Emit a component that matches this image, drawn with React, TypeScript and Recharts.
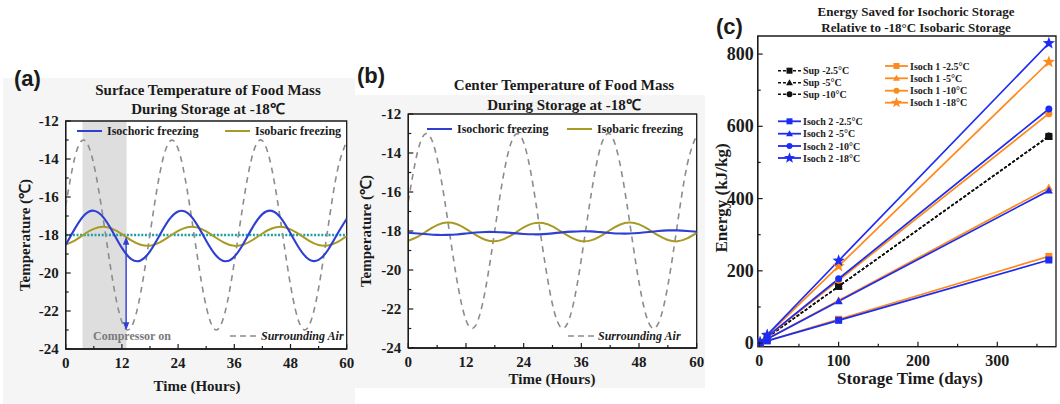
import React from 'react';
import {
  LineChart,
  Line,
  XAxis,
  YAxis,
  ReferenceArea,
  ReferenceLine,
  ReferenceDot,
  CartesianGrid,
} from 'recharts';

// ---------------- DATA ----------------
const hours = [0, 2, 4, 6, 8, 10, 12, 14, 16, 18, 20, 22, 24, 26, 28, 30, 32, 34, 36, 38, 40, 42, 44, 46, 48, 50, 52, 54, 56, 58, 60];
const airTemp = [-16.49, -13.87, -13.01, -14.28, -17.13, -20.35, -22.57, -22.85, -21.06, -17.96, -14.88, -13.14, -13.46, -15.72, -18.95, -21.77, -22.99, -22.09, -19.44, -16.18, -13.69, -13.04, -14.51, -17.46, -20.64, -22.7, -22.75, -20.8, -17.63, -14.63, -13.07];
const isochoricSurface = [-18.52, -17.65, -16.95, -16.72, -17.06, -17.82, -18.68, -19.27, -19.34, -18.86, -18.04, -17.22, -16.76, -16.84, -17.44, -18.3, -19.05, -19.38, -19.14, -18.43, -17.56, -16.9, -16.73, -17.12, -17.91, -18.75, -19.3, -19.31, -18.79, -17.95, -17.15];
const isobaricSurface = [-18.51, -18.28, -17.95, -17.68, -17.57, -17.68, -17.95, -18.28, -18.51, -18.56, -18.4, -18.1, -17.78, -17.59, -17.6, -17.81, -18.13, -18.42, -18.57, -18.5, -18.25, -17.92, -17.66, -17.57, -17.7, -17.98, -18.31, -18.53, -18.55, -18.37, -18.07];
const isochoricCenter = [-18.09, -18.13, -18.17, -18.2, -18.2, -18.18, -18.13, -18.08, -18.05, -18.05, -18.07, -18.11, -18.15, -18.17, -18.16, -18.12, -18.07, -18.03, -18.01, -18.02, -18.06, -18.1, -18.13, -18.13, -18.1, -18.05, -18.0, -17.97, -17.97, -18.0, -18.04];
const isobaricCenter = [-18.5, -18.29, -17.98, -17.7, -17.57, -17.64, -17.89, -18.2, -18.45, -18.53, -18.4, -18.13, -17.82, -17.61, -17.59, -17.76, -18.06, -18.35, -18.52, -18.48, -18.26, -17.95, -17.68, -17.57, -17.66, -17.92, -18.23, -18.46, -18.53, -18.38, -18.1];

const storageTarget = -18;
const compressorOnStart = 3.6;
const compressorOnEnd = 13;

const hourTicks = [0, 6, 12, 18, 24, 30, 36, 42, 48, 54, 60];
const hourLabels = [0, 12, 24, 36, 48, 60];
const tempTicks = [-24, -23, -22, -21, -20, -19, -18, -17, -16, -15, -14, -13, -12];
const tempLabels = [-24, -22, -20, -18, -16, -14, -12];

const storageDays = [1, 10, 100, 365];
const sup25 = [1.6, 15.7, 157, 572];
const sup5 = [1.6, 15.7, 157, 572];
const sup10 = [1.6, 15.7, 157, 573];
const isoch1_25 = [0.7, 6.6, 66, 240];
const isoch1_5 = [1.2, 11.8, 118, 430];
const isoch1_10 = [1.7, 17.4, 174, 635];
const isoch1_18 = [2.1, 21.3, 213, 778];
const isoch2_25 = [0.6, 6.3, 63, 230];
const isoch2_5 = [1.2, 11.6, 116, 422];
const isoch2_10 = [1.8, 17.8, 178, 648];
const isoch2_18 = [2.3, 22.7, 228, 830];

const dayTicks = [0, 50, 100, 150, 200, 250, 300, 350];
const dayLabels = [0, 100, 200, 300];
const energyTicks = [0, 100, 200, 300, 400, 500, 600, 700, 800];
const energyLabels = [0, 200, 400, 600, 800];

// ---------------- TABLES ----------------
const surfaceData = hours.map((t, i) => ({ t, air: airTemp[i], isoch: isochoricSurface[i], isob: isobaricSurface[i] }));
const centerData = hours.map((t, i) => ({ t, air: airTemp[i], isoch: isochoricCenter[i], isob: isobaricCenter[i] }));

const SERIF = '"Liberation Serif", "Times New Roman", Times, serif';
const SANS = '"Liberation Sans", Arial, sans-serif';
const INK = '#1b1b1b';
const BLUE_T = '#2f3fd2';
const OLIVE = '#a89a24';
const AIR = '#8c8c8c';
const TEAL = '#1aa0a8';
const BLUE_E = '#1c2cf2';
const ORANGE = '#ff8a1c';
const BLACK = '#111111';

type Shape = 'square' | 'triangle' | 'circle' | 'star';
const energySeries: { key: string; name: string; color: string; dashed: boolean; shape: Shape; values: number[] }[] = [
  { key: 'sup25', name: 'Sup -2.5°C', color: BLACK, dashed: true, shape: 'square', values: sup25 },
  { key: 'sup5', name: 'Sup -5°C', color: BLACK, dashed: true, shape: 'triangle', values: sup5 },
  { key: 'sup10', name: 'Sup -10°C', color: BLACK, dashed: true, shape: 'circle', values: sup10 },
  { key: 'i125', name: 'Isoch 1 -2.5°C', color: ORANGE, dashed: false, shape: 'square', values: isoch1_25 },
  { key: 'i15', name: 'Isoch 1 -5°C', color: ORANGE, dashed: false, shape: 'triangle', values: isoch1_5 },
  { key: 'i110', name: 'Isoch 1 -10°C', color: ORANGE, dashed: false, shape: 'circle', values: isoch1_10 },
  { key: 'i118', name: 'Isoch 1 -18°C', color: ORANGE, dashed: false, shape: 'star', values: isoch1_18 },
  { key: 'i225', name: 'Isoch 2 -2.5°C', color: BLUE_E, dashed: false, shape: 'square', values: isoch2_25 },
  { key: 'i25', name: 'Isoch 2 -5°C', color: BLUE_E, dashed: false, shape: 'triangle', values: isoch2_5 },
  { key: 'i210', name: 'Isoch 2 -10°C', color: BLUE_E, dashed: false, shape: 'circle', values: isoch2_10 },
  { key: 'i218', name: 'Isoch 2 -18°C', color: BLUE_E, dashed: false, shape: 'star', values: isoch2_18 },
];
const energyData = storageDays.map((d, i) => {
  const row: Record<string, number> = { d };
  energySeries.forEach((s) => {
    row[s.key] = s.values[i];
  });
  return row;
});

// ---------------- HELPERS ----------------
const GAP = 10;

function xTick(labels: number[], baseline: number, fontSize: number) {
  return (props: any) => {
    const { x, y, payload } = props;
    const v = payload.value;
    const major = labels.indexOf(v) >= 0;
    const ay = y - GAP;
    return (
      <g>
        <line x1={x} x2={x} y1={ay} y2={ay - (major ? 5 : 3)} stroke={INK} strokeWidth={1.2} />
        {major ? (
          <text x={x} y={ay + baseline} textAnchor="middle" fontFamily={SERIF} fontWeight="bold" fontSize={fontSize} fill={INK}>
            {v}
          </text>
        ) : null}
      </g>
    );
  };
}

function yTick(labels: number[], gap: number, fontSize: number) {
  return (props: any) => {
    const { x, y, payload } = props;
    const v = payload.value;
    const major = labels.indexOf(v) >= 0;
    const ax = x + GAP;
    return (
      <g>
        <line x1={ax} x2={ax + (major ? 5 : 3)} y1={y} y2={y} stroke={INK} strokeWidth={1.2} />
        {major ? (
          <text x={ax - gap} y={y + fontSize * 0.34} textAnchor="end" fontFamily={SERIF} fontWeight="bold" fontSize={fontSize} fill={INK}>
            {v}
          </text>
        ) : null}
      </g>
    );
  };
}

function Marker({ shape, cx, cy, color, size }: { shape: Shape; cx: number; cy: number; color: string; size: number }) {
  if (shape === 'square') return <rect x={cx - size / 2} y={cy - size / 2} width={size} height={size} fill={color} />;
  if (shape === 'circle') return <circle cx={cx} cy={cy} r={size / 2} fill={color} />;
  if (shape === 'triangle') {
    const h = size * 0.95;
    return <polygon points={`${cx},${cy - h * 0.62} ${cx - size * 0.58},${cy + h * 0.45} ${cx + size * 0.58},${cy + h * 0.45}`} fill={color} />;
  }
  const pts: string[] = [];
  const R = size * 0.72;
  const r = R * 0.42;
  for (let k = 0; k < 10; k++) {
    const ang = -Math.PI / 2 + (k * Math.PI) / 5;
    const rad = k % 2 === 0 ? R : r;
    pts.push(`${cx + rad * Math.cos(ang)},${cy + rad * Math.sin(ang)}`);
  }
  return <polygon points={pts.join(' ')} fill={color} />;
}

const arrowUp = (p: any) => <polygon points={`${p.cx},${p.cy - 4} ${p.cx - 3.2},${p.cy + 4} ${p.cx + 3.2},${p.cy + 4}`} fill={BLUE_T} />;
const arrowDown = (p: any) => <polygon points={`${p.cx},${p.cy + 4} ${p.cx - 3.2},${p.cy - 4} ${p.cx + 3.2},${p.cy - 4}`} fill={BLUE_T} />;

const axisLine = { stroke: INK, strokeWidth: 1.3 };

function TempChart({ data, width, margin, showCompressor }: { data: any[]; width: number; margin: any; showCompressor: boolean }) {
  return (
    <LineChart width={width} height={404} data={data} margin={margin}>
      <CartesianGrid horizontal={false} vertical={false} fill="#ffffff" stroke="none" />
      <XAxis
        dataKey="t"
        type="number"
        domain={[0, 60]}
        ticks={hourTicks}
        interval={0}
        tickSize={0}
        tickMargin={GAP}
        height={30}
        axisLine={axisLine}
        tickLine={false}
        tick={xTick(hourLabels, 19, 15)}
        allowDataOverflow
      />
      <YAxis
        type="number"
        domain={[-24, -12]}
        ticks={tempTicks}
        interval={0}
        tickSize={0}
        tickMargin={GAP}
        width={40}
        axisLine={axisLine}
        tickLine={false}
        tick={yTick(tempLabels, 7, 15)}
        allowDataOverflow
      />
      {showCompressor ? (
        <ReferenceArea x1={compressorOnStart} x2={compressorOnEnd} y1={-24} y2={-12} fill="#dedede" fillOpacity={1} stroke="none" />
      ) : null}
      {showCompressor ? <ReferenceLine y={storageTarget} stroke={TEAL} strokeWidth={2.6} strokeDasharray="2 1.6" /> : null}
      <Line dataKey="air" type="natural" stroke={AIR} strokeWidth={1.6} strokeDasharray="6 5" dot={false} activeDot={false} isAnimationActive={false} />
      <Line dataKey="isob" type="natural" stroke={OLIVE} strokeWidth={2} dot={false} activeDot={false} isAnimationActive={false} />
      <Line dataKey="isoch" type="natural" stroke={BLUE_T} strokeWidth={2.1} dot={false} activeDot={false} isAnimationActive={false} />
      {showCompressor ? (
        <ReferenceLine segment={[{ x: 12.9, y: -18.4 }, { x: 12.9, y: -22.7 }]} stroke={BLUE_T} strokeWidth={1.4} />
      ) : null}
      {showCompressor ? <ReferenceDot x={12.9} y={-18.3} shape={arrowUp} /> : null}
      {showCompressor ? <ReferenceDot x={12.9} y={-22.8} shape={arrowDown} /> : null}
      <ReferenceArea x1={0} x2={60} y1={-24} y2={-12} fill="none" stroke={INK} strokeWidth={1.3} />
    </LineChart>
  );
}

function EnergyChart() {
  return (
    <LineChart width={360} height={404} data={energyData} margin={{ top: 36, right: 4, bottom: 27.3, left: 17.7 }}>
      <CartesianGrid horizontal={false} vertical={false} fill="#ffffff" stroke="none" />
      <XAxis
        dataKey="d"
        type="number"
        domain={[-2, 374]}
        ticks={dayTicks}
        interval={0}
        tickSize={0}
        tickMargin={GAP}
        height={30}
        axisLine={axisLine}
        tickLine={false}
        tick={xTick(dayLabels, 19, 16)}
        allowDataOverflow
      />
      <YAxis
        type="number"
        domain={[-10, 850]}
        ticks={energyTicks}
        interval={0}
        tickSize={0}
        tickMargin={GAP}
        width={40}
        axisLine={axisLine}
        tickLine={false}
        tick={yTick(energyLabels, 4, 18)}
        allowDataOverflow
      />
      {energySeries.map((s) => (
        <Line
          key={s.key}
          dataKey={s.key}
          type="linear"
          stroke={s.color}
          strokeWidth={s.dashed ? 1.5 : 1.7}
          strokeDasharray={s.dashed ? '3 2' : undefined}
          activeDot={false}
          isAnimationActive={false}
          dot={(p: any) => (
            <Marker key={`${s.key}-${p.index}`} shape={s.shape} cx={p.cx} cy={p.cy} color={s.color} size={s.shape === 'star' ? 9 : 7} />
          )}
        />
      ))}
      <ReferenceArea x1={-2} x2={374} y1={-10} y2={850} fill="none" stroke={INK} strokeWidth={1.3} />
    </LineChart>
  );
}

function TempLegend({ y, items }: { y: number; items: { x: number; label: string; color: string }[] }) {
  return (
    <g>
      {items.map((it, i) => (
        <g key={i}>
          <line x1={it.x} x2={it.x + 25} y1={y} y2={y} stroke={it.color} strokeWidth={2} />
          <text x={it.x + 30} y={y + 4} fontFamily={SERIF} fontWeight="bold" fontSize={12} fill={INK}>
            {it.label}
          </text>
        </g>
      ))}
    </g>
  );
}

function EnergyLegendRow({ s, x, y }: { s: (typeof energySeries)[number]; x: number; y: number }) {
  return (
    <g>
      <line x1={x} x2={x + 23} y1={y} y2={y} stroke={s.color} strokeWidth={s.dashed ? 1.4 : 1.8} strokeDasharray={s.dashed ? '3 2' : undefined} />
      <Marker shape={s.shape} cx={x + 11.5} cy={y} color={s.color} size={s.shape === 'star' ? 8 : 6} />
      <text x={x + 25} y={y + 3.6} fontFamily={SERIF} fontWeight="bold" fontSize={10} fill={INK}>
        {s.name}
      </text>
    </g>
  );
}

export default function App() {
  const titleStyle = { fontFamily: SERIF, fontWeight: 'bold' as const, fontSize: 15, fill: INK };
  return (
    <div style={{ position: 'absolute', left: 0, top: 0, width: 1060, height: 404, background: '#ffffff', overflow: 'hidden' }}>
      <div style={{ position: 'absolute', left: 3, top: 78, width: 352, height: 326, background: '#f5f5f5' }} />
      <div style={{ position: 'absolute', left: 355, top: 95, width: 350, height: 293, background: '#f5f5f5' }} />

      <div style={{ position: 'absolute', left: 0, top: 0 }}>
        <TempChart data={surfaceData} width={360} margin={{ top: 121, right: 13.3, bottom: 25, left: 25.7 }} showCompressor={true} />
      </div>
      <div style={{ position: 'absolute', left: 355, top: 0 }}>
        <TempChart data={centerData} width={350} margin={{ top: 114, right: 8.3, bottom: 26, left: 13.3 }} showCompressor={false} />
      </div>
      <div style={{ position: 'absolute', left: 700, top: 0 }}>
        <EnergyChart />
      </div>

      <svg width={1060} height={404} style={{ position: 'absolute', left: 0, top: 0, pointerEvents: 'none' }}>
        {/* Panel a */}
        <text x={14} y={86} fontFamily={SANS} fontWeight="bold" fontSize={22} fill={INK}>(a)</text>
        <text x={208} y={95} textAnchor="middle" {...titleStyle}>Surface Temperature of Food Mass</text>
        <text x={208} y={114} textAnchor="middle" {...titleStyle}>During Storage at -18℃</text>
        <text transform="translate(30,235) rotate(-90)" textAnchor="middle" {...titleStyle}>Temperature (℃)</text>
        <text x={197} y={391} textAnchor="middle" {...titleStyle}>Time (Hours)</text>
        <TempLegend y={131} items={[{ x: 77, label: 'Isochoric freezing', color: BLUE_T }, { x: 225, label: 'Isobaric freezing', color: OLIVE }]} />
        <text x={93} y={340} fontFamily={SERIF} fontWeight="bold" fontSize={12} fill="#7a7a7a">Compressor on</text>
        <line x1={230} x2={258} y1={336} y2={336} stroke={AIR} strokeWidth={1.5} strokeDasharray="6 4" />
        <text x={261} y={340} fontFamily={SERIF} fontWeight="bold" fontStyle="italic" fontSize={12} fill={INK}>Surrounding Air</text>

        {/* Panel b */}
        <text x={357} y={83} fontFamily={SANS} fontWeight="bold" fontSize={22} fill={INK}>(b)</text>
        <text x={564} y={90} textAnchor="middle" {...titleStyle}>Center Temperature of Food Mass</text>
        <text x={564} y={110} textAnchor="middle" {...titleStyle}>During Storage at -18℃</text>
        <text transform="translate(371,231) rotate(-90)" textAnchor="middle" {...titleStyle}>Temperature (℃)</text>
        <text x={552} y={384} textAnchor="middle" {...titleStyle}>Time (Hours)</text>
        <TempLegend y={129} items={[{ x: 427, label: 'Isochoric freezing', color: BLUE_T }, { x: 567, label: 'Isobaric freezing', color: OLIVE }]} />
        <line x1={568} x2={595} y1={336} y2={336} stroke={AIR} strokeWidth={1.5} strokeDasharray="6 4" />
        <text x={598} y={340} fontFamily={SERIF} fontWeight="bold" fontStyle="italic" fontSize={12} fill={INK}>Surrounding Air</text>

        {/* Panel c */}
        <text x={716} y={34} fontFamily={SANS} fontWeight="bold" fontSize={22} fill={INK}>(c)</text>
        <text x={916} y={16} textAnchor="middle" fontFamily={SERIF} fontWeight="bold" fontSize={13} fill={INK}>Energy Saved for Isochoric Storage</text>
        <text x={916} y={32} textAnchor="middle" fontFamily={SERIF} fontWeight="bold" fontSize={13} fill={INK}>Relative to -18°C Isobaric Storage</text>
        <text transform="translate(727,198) rotate(-90)" textAnchor="middle" fontFamily={SERIF} fontWeight="bold" fontSize={17} fill={INK}>Energy (kJ/kg)</text>
        <text x={910} y={384} textAnchor="middle" fontFamily={SERIF} fontWeight="bold" fontSize={17} fill={INK}>Storage Time (days)</text>
        {energySeries.slice(0, 3).map((s, i) => (
          <EnergyLegendRow key={s.key} s={s} x={778} y={[70.7, 82.7, 94.3][i]} />
        ))}
        {energySeries.slice(3, 7).map((s, i) => (
          <EnergyLegendRow key={s.key} s={s} x={885} y={[66, 78.3, 90.7, 102.7][i]} />
        ))}
        {energySeries.slice(7, 11).map((s, i) => (
          <EnergyLegendRow key={s.key} s={s} x={778} y={[121.3, 133.7, 146, 158][i]} />
        ))}
      </svg>
    </div>
  );
}
